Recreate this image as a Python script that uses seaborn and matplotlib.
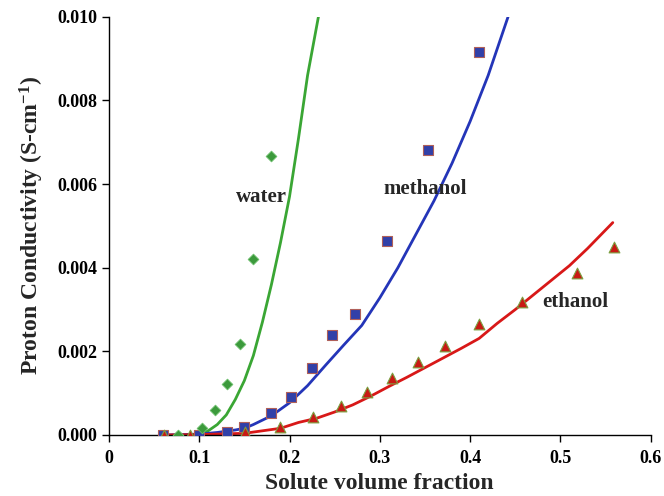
import numpy as np
import pandas as pd
import matplotlib
matplotlib.use("Agg")
import matplotlib.pyplot as plt
import seaborn as sns

# Measured data (markers)
water_x = [0.076, 0.103, 0.117, 0.131, 0.145, 0.160, 0.179]
water_y = [0.0, 0.00017, 0.0006, 0.00122, 0.00218, 0.0042, 0.00667]

methanol_x = [0.060, 0.100, 0.131, 0.150, 0.179, 0.202, 0.225, 0.247, 0.273, 0.308, 0.353, 0.410]
methanol_y = [0.0, 0.0, 0.00008, 0.0002, 0.00052, 0.00092, 0.00161, 0.00239, 0.00289, 0.00465, 0.00682, 0.00915]

ethanol_x = [0.061, 0.090, 0.151, 0.189, 0.226, 0.257, 0.286, 0.314, 0.342, 0.372, 0.410, 0.458, 0.518, 0.559]
ethanol_y = [0.0, 0.0, 0.00006, 0.00018, 0.00042, 0.00069, 0.00102, 0.00136, 0.00174, 0.00214, 0.00266, 0.00317, 0.00387, 0.00449]

# Model curves (lines)
water_fit_x = [0.09, 0.10, 0.11, 0.12, 0.13, 0.14, 0.15, 0.16, 0.17, 0.18, 0.19, 0.20, 0.21, 0.22, 0.232]
water_fit_y = [0.0, 0.00002, 0.0001, 0.00025, 0.00048, 0.00085, 0.0013, 0.0019, 0.0027, 0.0036, 0.0046, 0.0057, 0.0071, 0.0086, 0.0100]

methanol_fit_x = [0.06, 0.10, 0.12, 0.14, 0.15, 0.16, 0.18, 0.20, 0.22, 0.24, 0.26, 0.28, 0.30, 0.32, 0.34, 0.36, 0.38, 0.40, 0.42, 0.442]
methanol_fit_y = [0.0, 0.00002, 0.00006, 0.00012, 0.00016, 0.00025, 0.00046, 0.00077, 0.00118, 0.00167, 0.00215, 0.00262, 0.00328, 0.0040, 0.0048, 0.0056, 0.0065, 0.0075, 0.0086, 0.0100]

ethanol_fit_x = [0.06, 0.10, 0.15, 0.19, 0.21, 0.23, 0.25, 0.27, 0.29, 0.31, 0.33, 0.35, 0.37, 0.39, 0.41, 0.43, 0.45, 0.47, 0.49, 0.51, 0.53, 0.558]
ethanol_fit_y = [0.0, 0.00001, 0.00004, 0.00016, 0.00030, 0.00040, 0.00055, 0.00072, 0.00093, 0.00116, 0.00138, 0.00161, 0.00184, 0.00207, 0.00231, 0.00267, 0.0030, 0.00335, 0.0037, 0.00405, 0.00446, 0.00508]

x_ticks = [0, 0.1, 0.2, 0.3, 0.4, 0.5, 0.6]
x_tick_labels = ["0", "0.1", "0.2", "0.3", "0.4", "0.5", "0.6"]
y_ticks = [0.0, 0.002, 0.004, 0.006, 0.008, 0.010]
y_tick_labels = ["0.000", "0.002", "0.004", "0.006", "0.008", "0.010"]

sns.set_style("ticks")
plt.rcParams['font.family'] = ['Liberation Serif', 'DejaVu Serif']
plt.rcParams['font.weight'] = 'bold'
plt.rcParams['mathtext.fontset'] = 'custom'
plt.rcParams['mathtext.rm'] = 'Liberation Serif:bold'
plt.rcParams['mathtext.default'] = 'rm'

fig = plt.figure(figsize=(6.64, 4.96), dpi=100)
ax = fig.add_axes([0.164, 0.123, 0.816, 0.843])

GREEN = "#3aa634"
BLUE = "#2435b8"
RED = "#d81818"

lw = 2.0
sns.lineplot(x=water_fit_x, y=water_fit_y, ax=ax, color=GREEN, lw=lw, sort=False)
sns.lineplot(x=methanol_fit_x, y=methanol_fit_y, ax=ax, color=BLUE, lw=lw, sort=False)
sns.lineplot(x=ethanol_fit_x, y=ethanol_fit_y, ax=ax, color=RED, lw=lw, sort=False)

sns.scatterplot(x=methanol_x, y=methanol_y, ax=ax, marker="s", s=60,
                color="#3140a8", edgecolor="#b0605a", linewidth=0.8, zorder=5)
sns.scatterplot(x=ethanol_x, y=ethanol_y, ax=ax, marker="^", s=60,
                color="#c81a14", edgecolor="#7aa040", linewidth=0.8, zorder=6)
sns.scatterplot(x=water_x, y=water_y, ax=ax, marker="D", s=30,
                color="#3c9a3c", edgecolor="#6cbf6c", linewidth=0.6, zorder=7)

ax.set_xlim(0, 0.6)
ax.set_ylim(0, 0.010)
ax.set_xticks(x_ticks)
ax.set_xticklabels(x_tick_labels)
ax.set_yticks(y_ticks)
ax.set_yticklabels(y_tick_labels)
ax.tick_params(axis='both', labelsize=13, direction='out', length=5, width=1, colors='black')
ax.tick_params(axis='x', pad=6)
for lab in ax.get_xticklabels() + ax.get_yticklabels():
    lab.set_fontweight('bold')

for s in ['top', 'right']:
    ax.spines[s].set_visible(False)
for s in ['left', 'bottom']:
    ax.spines[s].set_color('black')
    ax.spines[s].set_linewidth(1.0)

ax.set_xlabel("Solute volume fraction", fontsize=17, fontweight='bold', labelpad=4)
ax.set_ylabel("Proton Conductivity (S-cm$^{-1}$)", fontsize=17, fontweight='bold', labelpad=8)

ax.text(0.169, 0.00569, "water", fontsize=15, fontweight='bold', ha='center', va='center')
ax.text(0.350, 0.00589, "methanol", fontsize=15, fontweight='bold', ha='center', va='center')
ax.text(0.516, 0.00318, "ethanol", fontsize=15, fontweight='bold', ha='center', va='center')

fig.savefig("out.png", dpi=100)
